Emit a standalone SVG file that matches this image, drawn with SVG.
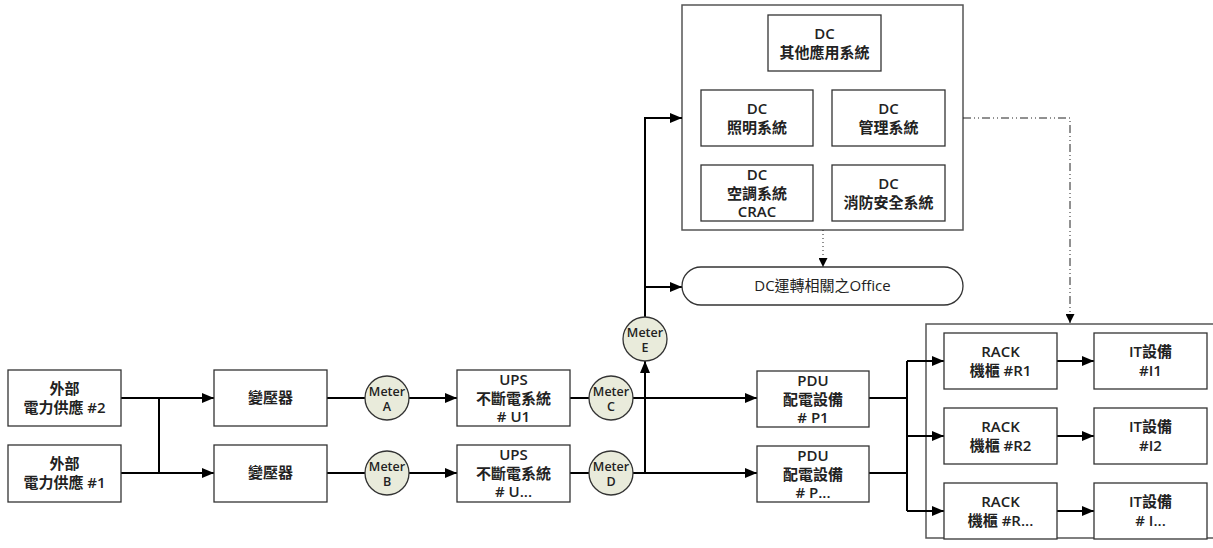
<svg xmlns="http://www.w3.org/2000/svg" width="1213" height="548" viewBox="0 0 1213 548">
<defs>
<marker id="ah" viewBox="0 0 12 10" refX="12" refY="5" markerWidth="12" markerHeight="10" markerUnits="userSpaceOnUse" orient="auto">
<path d="M0,0 L12,5 L0,10 z" fill="#000"/>
</marker>
<marker id="ahs" viewBox="0 0 10 10" refX="10" refY="5" markerWidth="10" markerHeight="9" markerUnits="userSpaceOnUse" orient="auto">
<path d="M0,0 L10,5 L0,10 z" fill="#000"/>
</marker>
<style>
.box{fill:#fff;stroke:#333;stroke-width:1.3}
.cont{fill:#fff;stroke:#555;stroke-width:1.5}
.meter{fill:#e9ebdb;stroke:#333;stroke-width:1.3}
.t{font-family:"Open Sans","Noto Sans CJK TC",sans-serif;font-size:15px;font-weight:600;fill:#222;text-anchor:middle}
.tm{font-family:"Open Sans","Noto Sans CJK TC",sans-serif;font-size:12.5px;font-weight:600;fill:#222;text-anchor:middle}
.to{font-family:"Open Sans","Noto Sans CJK TC",sans-serif;font-size:15px;font-weight:400;fill:#222;text-anchor:middle}
.c{fill:none;stroke:#000;stroke-width:2}
.ca{fill:none;stroke:#000;stroke-width:2;marker-end:url(#ah)}
.dot{fill:none;stroke:#222;stroke-width:1;stroke-dasharray:1 3;marker-end:url(#ahs)}
.dd{fill:none;stroke:#222;stroke-width:1;stroke-dasharray:8 3 1 3 1 3;marker-end:url(#ahs)}
</style>
</defs>

<g id="container-dc">
<rect class="cont" x="682" y="5" width="281" height="225"/>
</g>
<g id="container-rack">
<rect class="cont" x="926" y="324" width="300" height="214"/>
</g>

<g id="connectors">
<path class="ca" d="M121,398 H214"/>
<path class="ca" d="M121,473 H214"/>
<path class="c" d="M159,398 V473"/>
<path class="c" d="M327,398 H365"/>
<path class="ca" d="M409,398 H457"/>
<path class="c" d="M327,473 H365"/>
<path class="ca" d="M409,473 H457"/>
<path class="c" d="M570,398 H589"/>
<path class="c" d="M570,473 H589"/>
<path class="ca" d="M633,398 H757"/>
<path class="ca" d="M633,473 H757"/>
<path class="ca" d="M645,473 V361"/>
<path class="ca" d="M645,317 V118 H682"/>
<path class="ca" d="M645,287 H682"/>
<path class="dot" d="M823,230 V267"/>
<path class="dd" d="M963,118 H1070 V323"/>
<path class="c" d="M869,398 H907"/>
<path class="c" d="M869,473 H907"/>
<path class="c" d="M907,361 V511"/>
<path class="ca" d="M907,361 H944"/>
<path class="ca" d="M907,436 H944"/>
<path class="ca" d="M907,511 H944"/>
<path class="ca" d="M1057,361 H1094"/>
<path class="ca" d="M1057,436 H1094"/>
<path class="ca" d="M1057,511 H1094"/>
</g>

<g id="power2"><rect class="box" x="8" y="370" width="113" height="56"/>
<text class="t" x="64.5" y="394">外部</text><text class="t" x="64.5" y="413">電力供應 #2</text></g>
<g id="power1"><rect class="box" x="8" y="445" width="113" height="57"/>
<text class="t" x="64.5" y="469">外部</text><text class="t" x="64.5" y="488">電力供應 #1</text></g>

<g id="trans1"><rect class="box" x="214" y="370" width="113" height="56"/>
<text class="t" x="270.5" y="403">變壓器</text></g>
<g id="trans2"><rect class="box" x="214" y="445" width="113" height="57"/>
<text class="t" x="270.5" y="478">變壓器</text></g>

<g id="meterA"><circle class="meter" cx="387" cy="398" r="22"/>
<text class="tm" x="387" y="396">Meter</text><text class="tm" x="387" y="411">A</text></g>
<g id="meterB"><circle class="meter" cx="387" cy="473" r="22"/>
<text class="tm" x="387" y="471">Meter</text><text class="tm" x="387" y="486">B</text></g>

<g id="ups1"><rect class="box" x="457" y="370" width="113" height="56"/>
<text class="t" x="513.5" y="385">UPS</text><text class="t" x="513.5" y="404">不斷電系統</text><text class="t" x="513.5" y="422">#&#160;U1</text></g>
<g id="ups2"><rect class="box" x="457" y="445" width="113" height="57"/>
<text class="t" x="513.5" y="460">UPS</text><text class="t" x="513.5" y="479">不斷電系統</text><text class="t" x="513.5" y="497">#&#160;U...</text></g>

<g id="meterC"><circle class="meter" cx="611" cy="398" r="22"/>
<text class="tm" x="611" y="396">Meter</text><text class="tm" x="611" y="411">C</text></g>
<g id="meterD"><circle class="meter" cx="611" cy="473" r="22"/>
<text class="tm" x="611" y="471">Meter</text><text class="tm" x="611" y="486">D</text></g>
<g id="meterE"><circle class="meter" cx="645" cy="339" r="22"/>
<text class="tm" x="645" y="337">Meter</text><text class="tm" x="645" y="352">E</text></g>

<g id="pdu1"><rect class="box" x="757" y="371" width="112" height="56"/>
<text class="t" x="813" y="386">PDU</text><text class="t" x="813" y="405">配電設備</text><text class="t" x="813" y="423">#&#160;P1</text></g>
<g id="pdu2"><rect class="box" x="757" y="446" width="112" height="56"/>
<text class="t" x="813" y="461">PDU</text><text class="t" x="813" y="480">配電設備</text><text class="t" x="813" y="498">#&#160;P...</text></g>

<g id="dc-other"><rect class="box" x="768" y="15" width="113" height="56"/>
<text class="t" x="824.5" y="39">DC</text><text class="t" x="824.5" y="58">其他應用系統</text></g>
<g id="dc-light"><rect class="box" x="701" y="90" width="112" height="56"/>
<text class="t" x="757" y="114">DC</text><text class="t" x="757" y="133">照明系統</text></g>
<g id="dc-mgmt"><rect class="box" x="832" y="90" width="113" height="56"/>
<text class="t" x="888.5" y="114">DC</text><text class="t" x="888.5" y="133">管理系統</text></g>
<g id="dc-crac"><rect class="box" x="701" y="165" width="112" height="56"/>
<text class="t" x="757" y="180">DC</text><text class="t" x="757" y="199">空調系統</text><text class="t" x="757" y="217">CRAC</text></g>
<g id="dc-fire"><rect class="box" x="832" y="165" width="113" height="56"/>
<text class="t" x="888.5" y="189">DC</text><text class="t" x="888.5" y="208">消防安全系統</text></g>

<g id="office"><rect x="682" y="267" width="281" height="38" rx="19" ry="19" fill="#fff" stroke="#333" stroke-width="1.3"/>
<text class="to" x="822.5" y="291">DC運轉相關之Office</text></g>

<g id="rack1"><rect class="box" x="944" y="333" width="113" height="56"/>
<text class="t" x="1000.5" y="357">RACK</text><text class="t" x="1000.5" y="376">機櫃 #R1</text></g>
<g id="rack2"><rect class="box" x="944" y="408" width="113" height="56"/>
<text class="t" x="1000.5" y="432">RACK</text><text class="t" x="1000.5" y="451">機櫃 #R2</text></g>
<g id="rack3"><rect class="box" x="944" y="483" width="113" height="56"/>
<text class="t" x="1000.5" y="507">RACK</text><text class="t" x="1000.5" y="526">機櫃 #R...</text></g>

<g id="it1"><rect class="box" x="1094" y="333" width="113" height="56"/>
<text class="t" x="1150.5" y="357">IT設備</text><text class="t" x="1150.5" y="376">#I1</text></g>
<g id="it2"><rect class="box" x="1094" y="408" width="113" height="56"/>
<text class="t" x="1150.5" y="432">IT設備</text><text class="t" x="1150.5" y="451">#I2</text></g>
<g id="it3"><rect class="box" x="1094" y="483" width="113" height="56"/>
<text class="t" x="1150.5" y="507">IT設備</text><text class="t" x="1150.5" y="526">#&#160;I...</text></g>
</svg>
